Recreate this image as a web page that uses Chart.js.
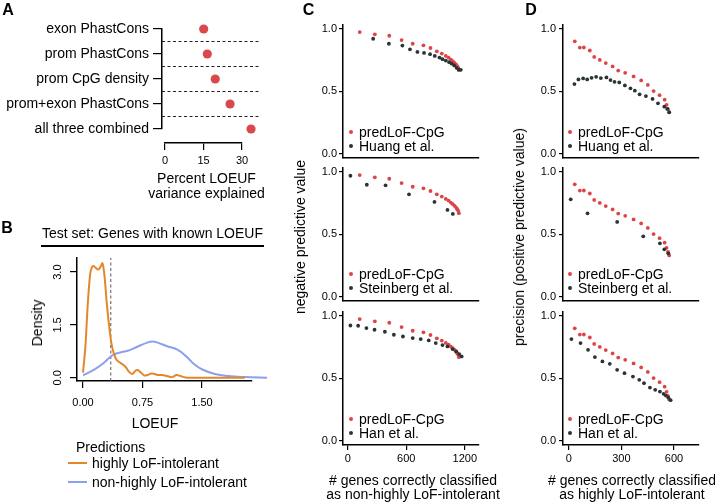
<!DOCTYPE html>
<html>
<head>
<meta charset="utf-8">
<script src="https://cdn.jsdelivr.net/npm/chart.js@4.4.1/dist/chart.umd.min.js"></script>
<style>
  body { margin: 0; background: #fff; }
  #fig { position: relative; width: 715px; height: 502px; overflow: hidden;
         font-family: "Liberation Sans", Arial, sans-serif; color: #000; }
  #fig canvas { position: absolute; }
  .t { position: absolute; white-space: nowrap; font-size: 14px; line-height: 16px; }
  .c { transform: translate(-50%, -50%); }
  .l { transform: translate(0, -50%); }
  .rot { transform: translate(-50%, -50%) rotate(-90deg); }
  .letter { font-weight: bold; font-size: 16px; }
  .dot { position: absolute; width: 4px; height: 4px; border-radius: 50%; transform: translate(-50%, -50%); }
  .bar { position: absolute; }
</style>
</head>
<body>
<div id="fig"></div>
<script>
// ---- panel A: variance explained
const aLabels = ['exon PhastCons', 'prom PhastCons', 'prom CpG density', 'prom+exon PhastCons', 'all three combined'];
const aVariance = [15.0, 16.4, 19.5, 25.3, 33.5];
const aTicks = [0, 15, 30];

// ---- panel B: LOEUF density of the test set
const bHighX = [0, 0.03, 0.06, 0.09, 0.11, 0.13, 0.16, 0.19, 0.22, 0.245, 0.27, 0.30, 0.33, 0.36, 0.39, 0.42, 0.46, 0.50, 0.54, 0.58, 0.62, 0.66, 0.69, 0.73, 0.77, 0.81, 0.86, 0.90, 0.95, 1.00, 1.06, 1.12, 1.18, 1.23, 1.29, 1.40, 1.60, 1.80, 2.04];
const bHighY = [0.15, 0.9, 2.1, 2.95, 3.13, 3.17, 3.12, 3.07, 3.15, 3.25, 2.9, 2.1, 1.45, 0.95, 0.68, 0.52, 0.44, 0.38, 0.30, 0.17, 0.11, 0.20, 0.22, 0.15, 0.07, 0.08, 0.12, 0.11, 0.08, 0.08, 0.05, 0.02, 0.08, 0.05, 0.01, 0.0, 0.0, 0.0, 0.0];
const bNonX = [0, 0.14, 0.26, 0.37, 0.47, 0.58, 0.69, 0.81, 0.88, 0.94, 1.07, 1.19, 1.30, 1.41, 1.51, 1.66, 1.83, 2.04, 2.32];
const bNonY = [0.07, 0.23, 0.42, 0.64, 0.72, 0.78, 0.89, 1.0, 1.03, 1.0, 0.89, 0.80, 0.61, 0.37, 0.23, 0.11, 0.05, 0.02, 0.0];
const bCutoff = 0.35;
const bXTicks = [0, 0.75, 1.5], bXLabels = ['0.00', '0.75', '1.50'];
const bYTicks = [0, 1.5, 3], bYLabels = ['0.0', '1.5', '3.0'];

// ---- panel C: negative predictive value vs # genes
const cPredX = [123, 278, 426, 552, 666, 776, 848, 913, 964, 1005, 1033, 1057, 1077, 1095, 1111, 1122, 1132, 1139];
const cPredY = [0.973, 0.955, 0.944, 0.909, 0.880, 0.867, 0.846, 0.819, 0.801, 0.782, 0.769, 0.753, 0.740, 0.727, 0.713, 0.700, 0.687, 0.668];
const cHuangX = [261, 422, 560, 638, 714, 782, 844, 892, 940, 971, 1005, 1039, 1064, 1091, 1115, 1136, 1159];
const cHuangY = [0.920, 0.880, 0.865, 0.835, 0.814, 0.806, 0.796, 0.782, 0.769, 0.756, 0.745, 0.732, 0.721, 0.706, 0.687, 0.674, 0.671];
const cSteinX = [28, 196, 388, 628, 889, 1022, 1077];
const cSteinY = [0.968, 0.896, 0.891, 0.819, 0.758, 0.694, 0.662];
const cHanX = [28, 107, 192, 275, 381, 473, 566, 666, 748, 830, 902, 971, 1022, 1074, 1111, 1142, 1167];
const cHanY = [0.922, 0.920, 0.901, 0.888, 0.872, 0.848, 0.834, 0.821, 0.813, 0.802, 0.781, 0.765, 0.754, 0.733, 0.714, 0.693, 0.674];
const cXTicks = [0, 600, 1200];

// ---- panel D: precision vs # genes
const dPredX = [34, 63, 86, 120, 145, 177, 211, 250, 282, 322, 370, 413, 451, 484, 518, 547, 558, 566, 573];
const dPredY = [0.899, 0.849, 0.850, 0.826, 0.774, 0.750, 0.725, 0.698, 0.665, 0.647, 0.618, 0.586, 0.550, 0.501, 0.468, 0.432, 0.391, 0.358, 0.330];
const dHuangX = [32, 55, 82, 105, 130, 156, 183, 215, 238, 261, 288, 320, 352, 377, 404, 440, 478, 509, 545, 562, 573];
const dHuangY = [0.557, 0.594, 0.602, 0.594, 0.607, 0.615, 0.605, 0.610, 0.589, 0.575, 0.570, 0.546, 0.523, 0.504, 0.475, 0.461, 0.438, 0.403, 0.376, 0.358, 0.332];
const dSteinX = [11, 107, 276, 425, 520, 545, 568];
const dSteinY = [0.779, 0.667, 0.598, 0.483, 0.427, 0.379, 0.347];
const dHanX = [15, 67, 110, 149, 192, 234, 276, 318, 366, 402, 429, 463, 493, 520, 541, 554, 568, 581];
const dHanY = [0.813, 0.781, 0.727, 0.669, 0.634, 0.615, 0.567, 0.540, 0.513, 0.487, 0.460, 0.425, 0.407, 0.393, 0.375, 0.361, 0.345, 0.324];
const dXTicks = [0, 300, 600];

const valTicks = [0, 0.5, 1], valLabels = ['0.0', '0.5', '1.0'];

const RED = '#dc4548', DARK = '#2b3434', ORANGE = '#e3882a', BLUE = '#8c9ff0';

Chart.defaults.font.family = '"Liberation Sans", Arial, sans-serif';
Chart.defaults.color = '#000';

const fig = document.getElementById('fig');

function pts(xs, ys) { return xs.map((x, i) => ({ x: x, y: ys[i] })); }

// places a canvas so that the chart area lands on box (page pixels)
function addChart(box, wy, hx, datasets, scales) {
    const P = 30;
    const w = Math.round(box.r - box.l + wy + 2 * P), h = Math.round(box.b - box.t + hx + 2 * P);
    const cv = document.createElement('canvas');
    cv.width = w; cv.height = h;
    cv.style.width = w + 'px'; cv.style.height = h + 'px';
    cv.style.left = (box.l - wy - P) + 'px';
    cv.style.top = (box.t - P) + 'px';
    fig.appendChild(cv);
    return new Chart(cv, {
        type: 'scatter',
        data: { datasets: datasets },
        options: {
            responsive: false,
            animation: false,
            layout: { padding: P },
            plugins: { legend: { display: false }, tooltip: { enabled: false } },
            scales: scales
        }
    });
}

function linAxis(o) {
    const ticks = o.ticks || [];
    return {
        type: 'linear', min: o.min, max: o.max, reverse: !!o.reverse,
        display: o.display !== false,
        afterBuildTicks: function (s) { s.ticks = ticks.map(v => ({ value: v })); },
        afterFit: function (s) { if (s.isHorizontal()) s.height = o.fit || 0; else s.width = o.fit || 0; },
        grid: { display: true, drawOnChartArea: false, drawTicks: !!o.tl, tickLength: o.tl || 0, color: '#000', lineWidth: 1.2 },
        border: { display: true, color: '#000', width: 1.5 },
        ticks: {
            display: !!o.labels, autoSkip: false, padding: o.pad || 3,
            color: '#000', font: { size: o.size || 11 },
            minRotation: o.rot || 0, maxRotation: o.rot || 0,
            crossAlign: o.rot ? 'center' : 'near',
            callback: function (v, i) { return o.labels ? o.labels[i] : ''; }
        }
    };
}

function dots(xs, ys, color) {
    return { data: pts(xs, ys), pointRadius: 1.9, pointBackgroundColor: color, pointBorderWidth: 0, clip: false };
}

// ---- A
const aMin = -1.29, aMax = 37;
const aSets = [{
    data: aVariance.map((v, i) => ({ x: v, y: i })),
    pointRadius: 4.6, pointBackgroundColor: '#d9494b', pointBorderWidth: 0, clip: false
}];
for (let i = 0; i < aLabels.length - 1; i++) {
    aSets.push({
        data: [{ x: aMin, y: i + 0.5 }, { x: aMax, y: i + 0.5 }],
        showLine: true, borderColor: '#222', borderWidth: 1, borderDash: [3, 2.5], pointRadius: 0
    });
}
addChart({ l: 161.7, t: 29, r: 260, b: 129 }, 160, 0, aSets, {
    x: { type: 'linear', min: aMin, max: aMax, display: false },
    y: linAxis({ min: 0, max: 4, reverse: true, ticks: [0, 1, 2, 3, 4], labels: aLabels, fit: 160, tl: 9, pad: 4, size: 14 })
});
addChart({ l: 165, t: 120, r: 242, b: 143 }, 0, 24, [{ data: [] }], {
    x: linAxis({ min: 0, max: 30, ticks: aTicks, labels: aTicks.map(String), fit: 24, tl: 7, pad: 4 }),
    y: { type: 'linear', min: 0, max: 1, display: false }
});

// ---- B
addChart({ l: 77, t: 258, r: 252, b: 381 }, 40, 30, [
    { data: pts(bHighX, bHighY), showLine: true, borderColor: ORANGE, borderWidth: 2, tension: 0.35, pointRadius: 0, clip: false },
    { data: pts(bNonX, bNonY), showLine: true, borderColor: BLUE, borderWidth: 2, tension: 0.4, pointRadius: 0, clip: false },
    { data: [{ x: bCutoff, y: -0.09 }, { x: bCutoff, y: 3.4 }], showLine: true, borderColor: '#555', borderWidth: 1, borderDash: [3, 2.5], pointRadius: 0 }
], {
    x: linAxis({ min: -0.076, max: 2.13, ticks: bXTicks, labels: bXLabels, fit: 30, tl: 7, pad: 8 }),
    y: linAxis({ min: -0.09, max: 3.4, ticks: bYTicks, labels: bYLabels, fit: 40, tl: 7, pad: 4, rot: 90 })
});

// ---- C and D
const yZero = [154, 296.7, 440.7], unit = 125.3;
const cOthers = [[cHuangX, cHuangY], [cSteinX, cSteinY], [cHanX, cHanY]];
const dOthers = [[dHuangX, dHuangY], [dSteinX, dSteinY], [dHanX, dHanY]];
for (let k = 0; k < 3; k++) {
    const box = { t: yZero[k] - 1.03 * unit, b: yZero[k] + 0.035 * unit };
    const last = k === 2;
    addChart({ l: 342.5, r: 478, t: box.t, b: box.b }, 40, last ? 25 : 2, [
        dots(cOthers[k][0], cOthers[k][1], DARK),
        dots(cPredX, cPredY, RED)
    ], {
        x: linAxis({ min: -48, max: 1345, ticks: cXTicks, labels: last ? cXTicks.map(String) : null, fit: last ? 25 : 2, tl: last ? 5 : 0, pad: 2 }),
        y: linAxis({ min: -0.035, max: 1.03, ticks: valTicks, labels: valLabels, fit: 40, tl: 4, pad: 2 })
    });
    addChart({ l: 563.3, r: 699, t: box.t, b: box.b }, 40, last ? 25 : 2, [
        dots(dOthers[k][0], dOthers[k][1], DARK),
        dots(dPredX, dPredY, RED)
    ], {
        x: linAxis({ min: -33, max: 743, ticks: dXTicks, labels: last ? dXTicks.map(String) : null, fit: last ? 25 : 2, tl: last ? 5 : 0, pad: 2 }),
        y: linAxis({ min: -0.035, max: 1.03, ticks: valTicks, labels: valLabels, fit: 40, tl: 4, pad: 3 })
    });
}

// ---- text, titles and legends
function text(str, x, y, cls, extra) {
    const d = document.createElement('div');
    d.className = 't ' + cls;
    d.textContent = str;
    d.style.left = x + 'px'; d.style.top = y + 'px';
    if (extra) Object.assign(d.style, extra);
    fig.appendChild(d);
}
function bar(x, y, w, h, color) {
    const d = document.createElement('div');
    d.className = 'bar';
    Object.assign(d.style, { left: x + 'px', top: y + 'px', width: w + 'px', height: h + 'px', background: color });
    fig.appendChild(d);
}
function dot(x, y, color) {
    const d = document.createElement('div');
    d.className = 'dot';
    Object.assign(d.style, { left: x + 'px', top: y + 'px', background: color });
    fig.appendChild(d);
}

text('A', 8, 10, 'c letter');
text('B', 7, 228, 'c letter');
text('C', 308.5, 10, 'c letter');
text('D', 531, 10, 'c letter');

text('Percent LOEUF', 206.5, 178, 'c');
text('variance explained', 206.5, 193, 'c');

text('Test set: Genes with known LOEUF', 152.5, 232.5, 'c');
bar(41, 245.3, 223, 1.5, '#000');
text('Density', 37, 323, 'rot');
text('LOEUF', 155, 423, 'c');
text('Predictions', 76, 447, 'l');
bar(68, 461.8, 19, 2.4, ORANGE);
text('highly LoF-intolerant', 92, 463, 'l');
bar(68, 480.6, 19, 2.4, BLUE);
text('non-highly LoF-intolerant', 92, 482, 'l');

text('negative predictive value', 300, 237, 'rot');
text('# genes correctly classified', 413, 480, 'c');
text('as non-highly LoF-intolerant', 413, 493.5, 'c');
text('precision (positive predictive value)', 519, 237, 'rot');
text('# genes correctly classified', 632, 480, 'c');
text('as highly LoF-intolerant', 632, 493.5, 'c');

const legendNames = ['Huang et al.', 'Steinberg et al.', 'Han et al.'];
const legendY = [131.7, 274, 419];
for (let k = 0; k < 3; k++) {
    const y = legendY[k];
    [[351, 359], [570, 578]].forEach(function (p) {
        dot(p[0], y, RED);
        text('predLoF-CpG', p[1], y, 'l');
        dot(p[0], y + 14.3, DARK);
        text(legendNames[k], p[1], y + 14.3, 'l');
    });
}
</script>
</body>
</html>
